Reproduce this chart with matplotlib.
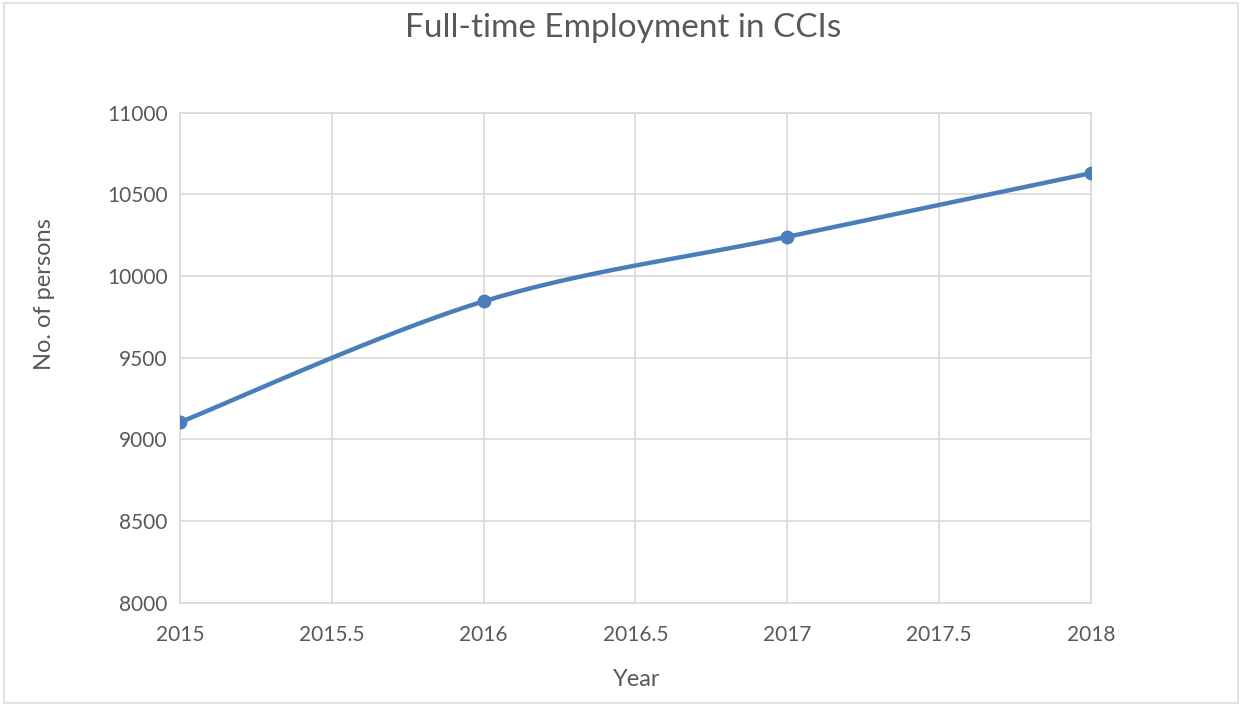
import numpy as np
import matplotlib.pyplot as plt
from matplotlib.patches import Rectangle

# Full-time employment figures per year
years = [2015, 2016, 2017, 2018]
persons = [9105, 9845, 10240, 10630]

x_ticks = [2015, 2015.5, 2016, 2016.5, 2017, 2017.5, 2018]
y_ticks = [8000, 8500, 9000, 9500, 10000, 10500, 11000]

line_color = '#4a7ebb'
grid_color = '#d9d9d9'
text_color = '#595959'


def smooth_curve(xs, ys, steps=40):
    '''Catmull-Rom style bezier smoothing through the points (like a spreadsheet smoothed line)'''
    xs = np.asarray(xs, dtype=float)
    ys = np.asarray(ys, dtype=float)
    n = len(xs)
    out_x, out_y = [], []
    for i in range(n - 1):
        p0 = np.array([xs[max(i - 1, 0)], ys[max(i - 1, 0)]])
        p1 = np.array([xs[i], ys[i]])
        p2 = np.array([xs[i + 1], ys[i + 1]])
        p3 = np.array([xs[min(i + 2, n - 1)], ys[min(i + 2, n - 1)]])
        c1 = p1 + (p2 - p0) / 6.0
        c2 = p2 - (p3 - p1) / 6.0
        t = np.linspace(0, 1, steps)[:, None]
        pts = ((1 - t) ** 3) * p1 + 3 * ((1 - t) ** 2) * t * c1 + 3 * (1 - t) * t ** 2 * c2 + t ** 3 * p2
        out_x.extend(pts[:, 0])
        out_y.extend(pts[:, 1])
    return out_x, out_y


plt.rcParams['font.family'] = ['Lato', 'DejaVu Sans']

fig = plt.figure(figsize=(12.44, 7.06), dpi=100)
ax = fig.add_axes([0.1447, 0.1463, 0.7323, 0.6941])

sx, sy = smooth_curve(years, persons)
ax.plot(sx, sy, color=line_color, linewidth=3.2, solid_capstyle='round', zorder=3)
ax.plot(years, persons, linestyle='none', marker='o', markersize=9,
        color=line_color, zorder=4)

ax.set_xlim(2015, 2018)
ax.set_ylim(8000, 11000)
ax.set_xticks(x_ticks)
ax.set_xticklabels([f'{v:g}' for v in x_ticks])
ax.set_yticks(y_ticks)
ax.set_yticklabels([str(v) for v in y_ticks])
ax.grid(True, color=grid_color, linewidth=1.2)
ax.set_axisbelow(True)
ax.tick_params(length=0, labelsize=15, colors=text_color)
ax.tick_params(axis='x', pad=16)
ax.tick_params(axis='y', pad=9)
for side in ['left', 'right', 'top', 'bottom']:
    ax.spines[side].set_color(grid_color)
    ax.spines[side].set_linewidth(1.2)

# axis titles placed in figure coordinates
fig.text(637 / 1244, 1 - 680 / 706, 'Year', ha='center', va='center',
         fontsize=17, color=text_color)
fig.text(45 / 1244, 1 - 294 / 706, 'No. of persons', ha='center', va='center',
         rotation=90, fontsize=17, color=text_color)
fig.text(623 / 1244, 1 - 28 / 706, 'Full-time Employment in CCIs', ha='center', va='center',
         fontsize=24, color=text_color)

# thin chart-area border
fig.patches.append(Rectangle((0.003, 0.004), 0.992, 0.992, transform=fig.transFigure,
                             fill=False, edgecolor='#e3e3e3', linewidth=1.5))

fig.savefig('out.png', dpi=100, facecolor='white')
